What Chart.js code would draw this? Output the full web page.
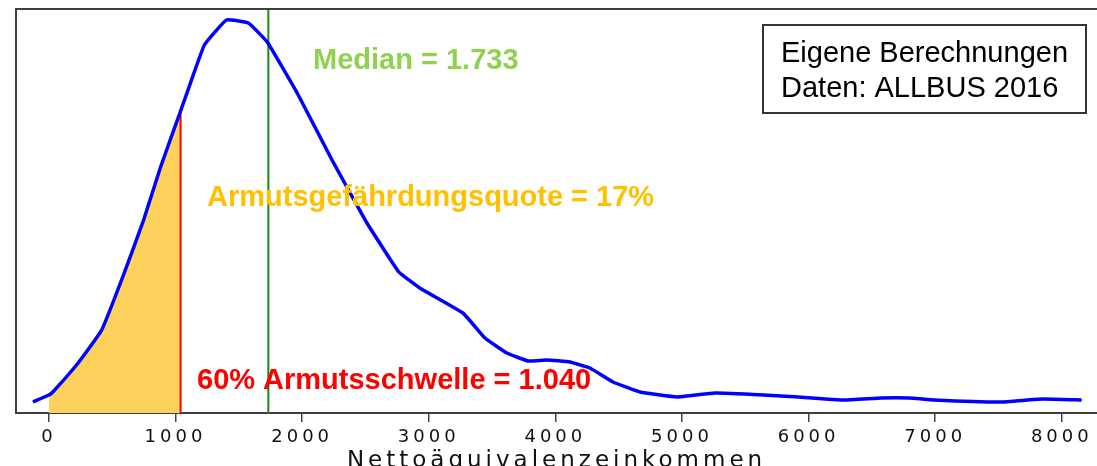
<!DOCTYPE html>
<html>
<head>
<meta charset="utf-8">
<script src="https://cdn.jsdelivr.net/npm/chart.js@4/dist/chart.umd.min.js"></script>
<style>
    body { margin: 0; background: #fff; }
    .wrap { width: 1097px; height: 466px; position: relative; }
</style>
</head>
<body>
<div class="wrap"><canvas id="densityChart"></canvas></div>
<script>
// DATA
const income = [-126, 0, 31, 205, 307, 417, 583, 748, 882, 1040, 1118, 1228, 1402, 1575, 1724, 1961, 2236, 2512, 2764, 2929, 3270, 3444, 3617, 3784, 3933, 4115, 4273, 4455, 4668, 4960, 5260, 5646, 5921, 6276, 6575, 6795, 6992, 7512, 7843, 8157];
const density = [11, 18, 21, 46, 63, 83, 136, 193, 246, 302, 330, 368, 393, 390, 371, 320, 253, 190, 141, 125, 100, 75, 60, 52, 53, 51, 45, 31, 21, 16, 20, 18, 16, 13, 15, 15, 13, 11, 14, 13];
const xTicks = [0, 1000, 2000, 3000, 4000, 5000, 6000, 7000, 8000];

const median = 1733;
const threshold = 1040;
const xMin = -260;
const xMax = 8278;
const yMax = 404;

const curve = income.map((x, i) => ({ x: x, y: density[i] }));
const poorPart = curve.filter(p => p.x >= 0 && p.x <= threshold);
const thresholdTop = curve.find(p => p.x === threshold).y;

// FRAME + TEXTS
const extras = {
    id: "extras",
    beforeDraw(chart) {
        chart.ctx.letterSpacing = "4px";
    },
    afterDraw(chart) {
        const ctx = chart.ctx;
        const a = chart.chartArea;
        ctx.save();
        ctx.letterSpacing = "0px";

        ctx.strokeStyle = "#3f3f3f";
        ctx.lineWidth = 2;
        ctx.beginPath();
        ctx.moveTo(a.left, a.bottom);
        ctx.lineTo(a.left, a.top);
        ctx.lineTo(chart.width, a.top);
        ctx.stroke();

        ctx.textAlign = "left";
        ctx.textBaseline = "alphabetic";
        ctx.font = "bold 29px 'Liberation Sans', Arial, sans-serif";
        ctx.fillStyle = "#92d050";
        ctx.fillText("Median = 1.733", 313, 69);
        ctx.fillStyle = "#ffc000";
        ctx.fillText("Armutsgefährdungsquote = 17%", 207, 206);
        ctx.fillStyle = "#ff0000";
        ctx.fillText("60% Armutsschwelle = 1.040", 197, 389);

        ctx.strokeStyle = "#333";
        ctx.lineWidth = 2;
        ctx.strokeRect(763, 25, 323, 88);
        ctx.fillStyle = "#000";
        ctx.font = "29px 'Liberation Sans', Arial, sans-serif";
        ctx.fillText("Eigene Berechnungen", 781, 62);
        ctx.fillText("Daten: ALLBUS 2016", 781, 97);
        ctx.restore();
    }
};

new Chart(document.getElementById("densityChart"), {
    type: "line",
    data: {
        datasets: [
            {
                data: poorPart,
                order: 4,
                borderWidth: 0,
                pointRadius: 0,
                fill: "origin",
                backgroundColor: "#fcd25c",
                tension: 0.1
            },
            {
                data: [{ x: median, y: 0 }, { x: median, y: yMax }],
                order: 3,
                borderColor: "#168a16",
                borderWidth: 2,
                pointRadius: 0
            },
            {
                data: [{ x: threshold, y: 0 }, { x: threshold, y: thresholdTop }],
                order: 2,
                borderColor: "#ff0000",
                borderWidth: 2,
                pointRadius: 0
            },
            {
                data: curve,
                order: 1,
                borderColor: "#0000ff",
                borderWidth: 3.5,
                pointRadius: 0,
                fill: false,
                tension: 0.1
            }
        ]
    },
    options: {
        responsive: true,
        maintainAspectRatio: false,
        animation: false,
        layout: { padding: { left: 16, top: 9, right: 0, bottom: 0 } },
        plugins: {
            legend: { display: false },
            tooltip: { enabled: false }
        },
        scales: {
            x: {
                type: "linear",
                min: xMin,
                max: xMax,
                afterBuildTicks: s => { s.ticks = xTicks.map(v => ({ value: v })); },
                afterFit: s => { s.height = 53; },
                grid: { drawOnChartArea: false, drawTicks: true, tickLength: 9, color: "#444", lineWidth: 1.5 },
                border: { color: "#3f3f3f", width: 2 },
                ticks: {
                    padding: 5,
                    color: "#111",
                    maxRotation: 0,
                    font: { family: "'DejaVu Sans'", size: 18 },
                    callback: v => String(v)
                },
                title: {
                    display: true,
                    text: "Nettoäquivalenzeinkommen",
                    color: "#111",
                    padding: { top: 0, bottom: -9 },
                    font: { family: "'DejaVu Sans'", size: 23 }
                }
            },
            y: {
                display: false,
                min: 0,
                max: yMax
            }
        }
    },
    plugins: [extras]
});
</script>
</body>
</html>
